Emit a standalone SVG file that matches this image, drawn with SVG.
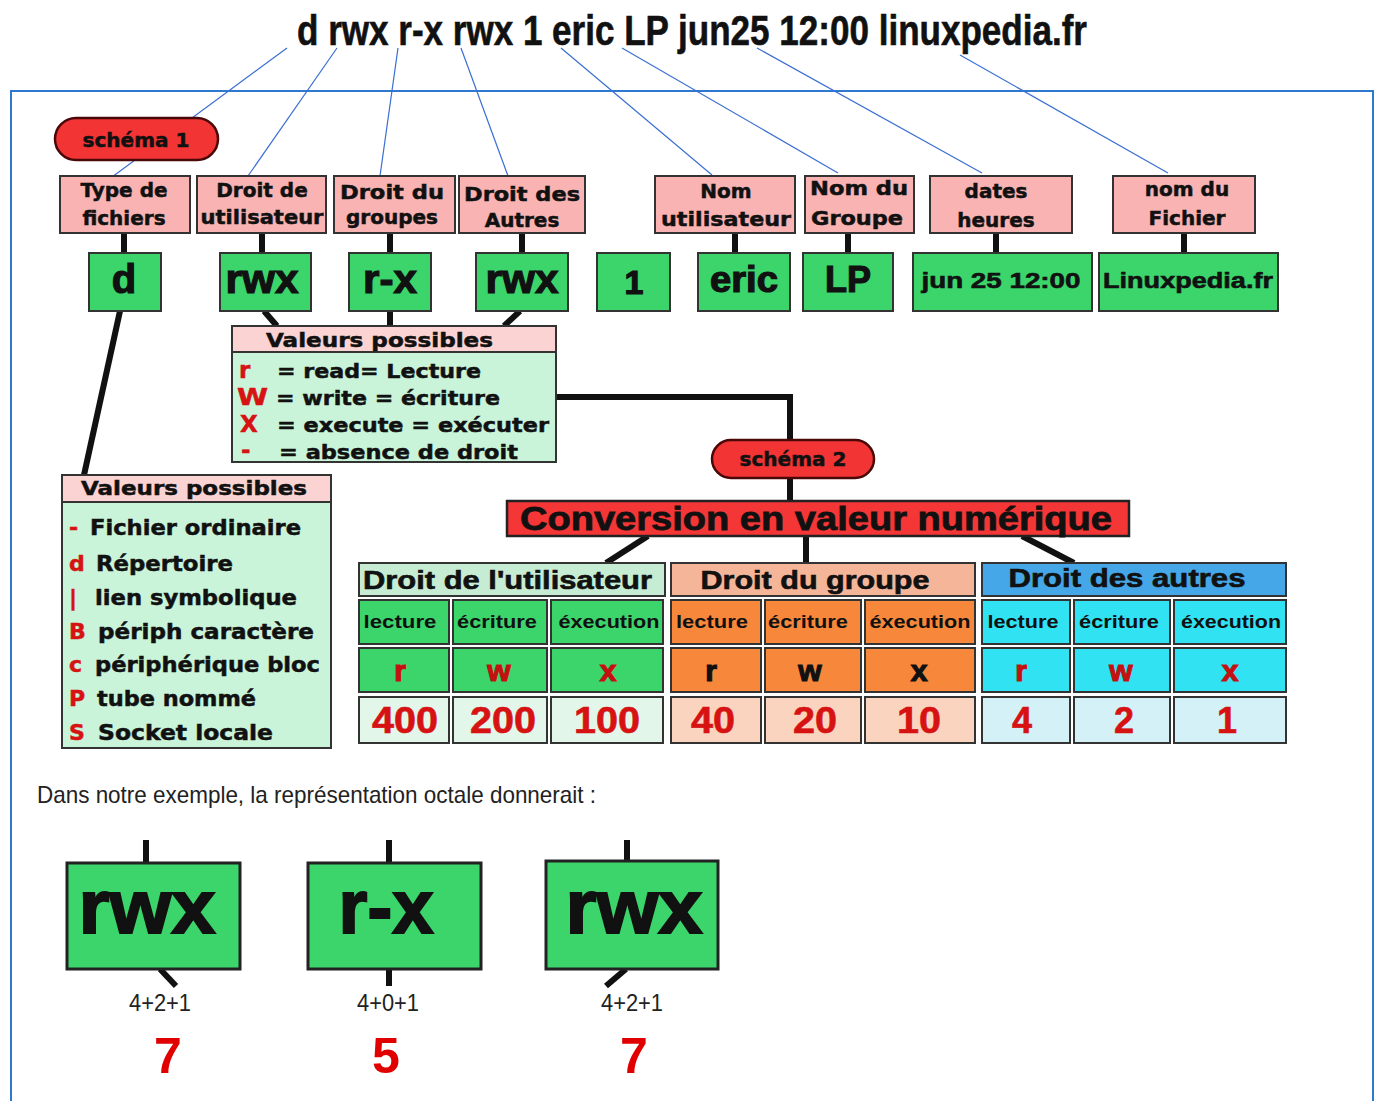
<svg xmlns="http://www.w3.org/2000/svg" width="1378" height="1101" viewBox="0 0 1378 1101">
<style>
text{font-family:"Liberation Sans",Arial,sans-serif;font-weight:bold;fill:#111}
.w{font-family:"DejaVu Sans","Liberation Sans",sans-serif;font-weight:bold;stroke:#111;stroke-width:0.5}
.hv{stroke:#111;stroke-width:1.2}
.c{text-anchor:middle}
.pink{fill:#f8b3b2;stroke:#333;stroke-width:2}
.grn{fill:#3bd56c;stroke:#333;stroke-width:2}
.mint{fill:#c9f4da;stroke:#333;stroke-width:2}
.pill{fill:#f23434;stroke:#4a0808;stroke-width:2.5}
.blue{stroke:#3a6fd2;stroke-width:1.2;fill:none}
.k{stroke:#111;stroke-width:6;fill:none}
.red{fill:#d61212;stroke:#d61212}
.rl{fill:#c41010;stroke:#c41010;stroke-width:1.2}
.org{fill:#f7883b;stroke:#333;stroke-width:2}
.cya{fill:#30e2f2;stroke:#333;stroke-width:2}
.lg{fill:#e2f6ea;stroke:#333;stroke-width:2}
.lp{fill:#fbd4bf;stroke:#333;stroke-width:2}
.lc{fill:#d4f1f7;stroke:#333;stroke-width:2}
.num{fill:#d61212;stroke:#d61212;stroke-width:0.6}
.big{fill:#3bd56c;stroke:#222;stroke-width:3}
.n{font-weight:normal;fill:#222}
</style>

<rect x="11" y="91" width="1362" height="1030" fill="none" stroke="#2f78cf" stroke-width="2"/>

<text id="title" x="692" y="45" class="c" font-size="42" textLength="790" lengthAdjust="spacingAndGlyphs" style="stroke:#111;stroke-width:0.6">d rwx r-x rwx 1 eric LP jun25 12:00 linuxpedia.fr</text>

<g id="connectors">
  <line class="blue" x1="287" y1="48" x2="112" y2="177"/>
  <line class="blue" x1="337" y1="48" x2="248" y2="176"/>
  <line class="blue" x1="398" y1="48" x2="380" y2="176"/>
  <line class="blue" x1="461" y1="48" x2="508" y2="176"/>
  <line class="blue" x1="561" y1="48" x2="712" y2="175"/>
  <line class="blue" x1="622" y1="48" x2="838" y2="173"/>
  <line class="blue" x1="757" y1="48" x2="982" y2="173"/>
  <line class="blue" x1="960" y1="55" x2="1168" y2="173"/>
  <line class="k" x1="124" y1="233" x2="124" y2="253"/>
  <line class="k" x1="262" y1="233" x2="262" y2="253"/>
  <line class="k" x1="390" y1="233" x2="390" y2="253"/>
  <line class="k" x1="522" y1="233" x2="522" y2="253"/>
  <line class="k" x1="735" y1="233" x2="735" y2="253"/>
  <line class="k" x1="848" y1="233" x2="848" y2="253"/>
  <line class="k" x1="996" y1="233" x2="996" y2="253"/>
  <line class="k" x1="1184" y1="233" x2="1184" y2="253"/>
  <line class="k" x1="120" y1="311" x2="84" y2="475"/>
  <line class="k" x1="264" y1="311" x2="277" y2="326"/>
  <line class="k" x1="390" y1="311" x2="390" y2="326"/>
  <line class="k" x1="520" y1="311" x2="504" y2="326"/>
  <polyline class="k" points="556,397 790,397 790,441"/>
  <line class="k" x1="790" y1="478" x2="790" y2="501"/>
  <line class="k" x1="648" y1="536" x2="606" y2="563"/>
  <line class="k" x1="806" y1="536" x2="806" y2="563"/>
  <line class="k" x1="1022" y1="536" x2="1074" y2="563"/>
  <line class="k" x1="146" y1="840" x2="146" y2="863"/>
  <line class="k" x1="160" y1="969" x2="176" y2="986"/>
  <line class="k" x1="389" y1="840" x2="389" y2="863"/>
  <line class="k" x1="389" y1="969" x2="389" y2="986"/>
  <line class="k" x1="627" y1="840" x2="627" y2="861"/>
  <line class="k" x1="626" y1="969" x2="606" y2="986"/>
</g>

<g id="schema1">
  <rect class="pill" x="55" y="118" width="163" height="42" rx="21"/>
  <text class="w c" x="136" y="147" font-size="20">schéma 1</text>
</g>

<g id="h-type"><rect class="pink" x="60" y="176" width="130" height="57"/>
  <text class="w c" x="124" y="197" font-size="20">Type de</text><text class="w c" x="124" y="225" font-size="20">fichiers</text></g>
<g id="h-duser"><rect class="pink" x="197" y="176" width="129" height="57"/>
  <text class="w c" x="262" y="197" font-size="20">Droit de</text><text class="w c" x="262" y="224" font-size="20" textLength="123" lengthAdjust="spacingAndGlyphs">utilisateur</text></g>
<g id="h-dgrp"><rect class="pink" x="334" y="176" width="121" height="57"/>
  <text class="w c" x="392" y="199" font-size="20" textLength="104" lengthAdjust="spacingAndGlyphs">Droit du</text><text class="w c" x="392" y="224" font-size="20">groupes</text></g>
<g id="h-dautres"><rect class="pink" x="459" y="176" width="126" height="57"/>
  <text class="w c" x="522" y="201" font-size="20" textLength="116" lengthAdjust="spacingAndGlyphs">Droit des</text><text class="w c" x="522" y="227" font-size="20">Autres</text></g>
<g id="h-nomu"><rect class="pink" x="655" y="176" width="140" height="57"/>
  <text class="w c" x="726" y="198" font-size="20">Nom</text><text class="w c" x="726" y="226" font-size="20" textLength="130" lengthAdjust="spacingAndGlyphs">utilisateur</text></g>
<g id="h-nomg"><rect class="pink" x="805" y="176" width="109" height="57"/>
  <text class="w c" x="859" y="195" font-size="20" textLength="98" lengthAdjust="spacingAndGlyphs">Nom du</text><text class="w c" x="857" y="225" font-size="20" textLength="92" lengthAdjust="spacingAndGlyphs">Groupe</text></g>
<g id="h-dates"><rect class="pink" x="930" y="176" width="142" height="57"/>
  <text class="w c" x="996" y="198" font-size="20">dates</text><text class="w c" x="996" y="227" font-size="20">heures</text></g>
<g id="h-nomf"><rect class="pink" x="1113" y="176" width="142" height="57"/>
  <text class="w c" x="1187" y="196" font-size="20">nom du</text><text class="w c" x="1187" y="225" font-size="20">Fichier</text></g>

<g id="v-d"><rect class="grn" x="89" y="253" width="72" height="58"/><text class="c hv" x="124" y="293" font-size="40">d</text></g>
<g id="v-rwx1"><rect class="grn" x="220" y="253" width="91" height="58"/><text class="c hv" x="262" y="293" font-size="40" textLength="73" lengthAdjust="spacingAndGlyphs">rwx</text></g>
<g id="v-rx"><rect class="grn" x="349" y="253" width="82" height="58"/><text class="c hv" x="390" y="293" font-size="40" textLength="54" lengthAdjust="spacingAndGlyphs">r-x</text></g>
<g id="v-rwx2"><rect class="grn" x="476" y="253" width="92" height="58"/><text class="c hv" x="522" y="293" font-size="40" textLength="73" lengthAdjust="spacingAndGlyphs">rwx</text></g>
<g id="v-1"><rect class="grn" x="597" y="253" width="73" height="58"/><text class="c hv" x="634" y="294" font-size="34">1</text></g>
<g id="v-eric"><rect class="grn" x="698" y="253" width="92" height="58"/><text class="c hv" x="744" y="292" font-size="36" textLength="68" lengthAdjust="spacingAndGlyphs">eric</text></g>
<g id="v-lp"><rect class="grn" x="803" y="253" width="90" height="58"/><text class="c hv" x="848" y="292" font-size="36">LP</text></g>
<g id="v-date"><rect class="grn" x="913" y="253" width="179" height="58"/><text class="c" x="1001" y="288" font-size="22" textLength="159" lengthAdjust="spacingAndGlyphs" style="stroke:#111;stroke-width:0.6">jun 25 12:00</text></g>
<g id="v-file"><rect class="grn" x="1099" y="253" width="179" height="58"/><text class="c" x="1188" y="288" font-size="22" textLength="170" lengthAdjust="spacingAndGlyphs" style="stroke:#111;stroke-width:0.6">Linuxpedia.fr</text></g>

<g id="valeurs1">
  <rect class="pink" x="232" y="326" width="324" height="26" style="fill:#fbd3d3"/>
  <rect class="mint" x="232" y="352" width="324" height="110"/>
  <text class="w" x="266" y="347" font-size="20" textLength="227" lengthAdjust="spacingAndGlyphs">Valeurs possibles</text>
  <text class="w red" x="239" y="378" font-size="23">r</text>
  <text class="w" x="277" y="378" font-size="20" textLength="204" lengthAdjust="spacingAndGlyphs">= read= Lecture</text>
  <text class="w red" x="237" y="405" font-size="23" textLength="31" lengthAdjust="spacingAndGlyphs">W</text>
  <text class="w" x="276" y="405" font-size="20" textLength="224" lengthAdjust="spacingAndGlyphs">= write = écriture</text>
  <text class="w red" x="240" y="432" font-size="23">X</text>
  <text class="w" x="277" y="432" font-size="20" textLength="272" lengthAdjust="spacingAndGlyphs">= execute = exécuter</text>
  <text class="w red" x="241" y="458" font-size="23">-</text>
  <text class="w" x="279" y="459" font-size="20" textLength="239" lengthAdjust="spacingAndGlyphs">= absence de droit</text>
</g>

<g id="valeurs2">
  <rect class="pink" x="62" y="475" width="269" height="27" style="fill:#fbd3d3"/>
  <rect class="mint" x="62" y="502" width="269" height="246"/>
  <text class="w" x="81" y="495" font-size="20" textLength="226" lengthAdjust="spacingAndGlyphs">Valeurs possibles</text>
  <text class="w red" x="69" y="535" font-size="22">-</text>
  <text class="w" x="90" y="535" font-size="21" textLength="211" lengthAdjust="spacingAndGlyphs">Fichier ordinaire</text>
  <text class="w red" x="69" y="571" font-size="22">d</text>
  <text class="w" x="96" y="571" font-size="21" textLength="137" lengthAdjust="spacingAndGlyphs">Répertoire</text>
  <text class="w red" x="69" y="605" font-size="22">|</text>
  <text class="w" x="95" y="605" font-size="21" textLength="202" lengthAdjust="spacingAndGlyphs">lien symbolique</text>
  <text class="w red" x="69" y="639" font-size="22">B</text>
  <text class="w" x="98" y="639" font-size="21" textLength="216" lengthAdjust="spacingAndGlyphs">périph caractère</text>
  <text class="w red" x="69" y="672" font-size="22">c</text>
  <text class="w" x="95" y="672" font-size="21" textLength="225" lengthAdjust="spacingAndGlyphs">périphérique bloc</text>
  <text class="w red" x="69" y="706" font-size="22">P</text>
  <text class="w" x="97" y="706" font-size="21" textLength="159" lengthAdjust="spacingAndGlyphs">tube nommé</text>
  <text class="w red" x="69" y="740" font-size="22">S</text>
  <text class="w" x="98" y="740" font-size="21" textLength="175" lengthAdjust="spacingAndGlyphs">Socket locale</text>
</g>

<g id="schema2">
  <rect class="pill" x="712" y="440" width="162" height="38" rx="19"/>
  <text class="w c" x="793" y="466" font-size="20">schéma 2</text>
</g>

<g id="conversion">
  <rect x="507" y="501" width="622" height="35" fill="#f43636" stroke="#222" stroke-width="2.5"/>
  <text class="c" x="816" y="530" font-size="34" textLength="592" lengthAdjust="spacingAndGlyphs" style="stroke:#111;stroke-width:0.8">Conversion en valeur numérique</text>
</g>

<g id="t-user">
  <rect x="359" y="563" width="306" height="33" fill="#c6edd4" stroke="#333" stroke-width="2"/>
  <text x="363" y="589" font-size="25" textLength="289" lengthAdjust="spacingAndGlyphs" style="stroke:#111;stroke-width:0.6">Droit de l'utilisateur</text>
  <rect class="grn" x="359" y="600" width="90" height="44"/><text class="c" x="400" y="628" font-size="18" textLength="73" lengthAdjust="spacingAndGlyphs">lecture</text>
  <rect class="grn" x="453" y="600" width="94" height="44"/><text class="c" x="497" y="628" font-size="18" textLength="80" lengthAdjust="spacingAndGlyphs">écriture</text>
  <rect class="grn" x="551" y="600" width="112" height="44"/><text class="c" x="609" y="628" font-size="18" textLength="101" lengthAdjust="spacingAndGlyphs">éxecution</text>
  <rect class="grn" x="359" y="648" width="90" height="44"/><text class="c rl" x="400" y="681" font-size="30">r</text>
  <rect class="grn" x="453" y="648" width="94" height="44"/><text class="c rl" x="499" y="681" font-size="30">w</text>
  <rect class="grn" x="551" y="648" width="112" height="44"/><text class="c rl" x="608" y="681" font-size="30">x</text>
  <rect class="lg" x="359" y="697" width="90" height="46"/><text class="c num" x="405" y="733" font-size="36" textLength="66" lengthAdjust="spacingAndGlyphs">400</text>
  <rect class="lg" x="453" y="697" width="94" height="46"/><text class="c num" x="503" y="733" font-size="36" textLength="66" lengthAdjust="spacingAndGlyphs">200</text>
  <rect class="lg" x="551" y="697" width="112" height="46"/><text class="c num" x="607" y="733" font-size="36" textLength="66" lengthAdjust="spacingAndGlyphs">100</text>
</g>

<g id="t-group">
  <rect x="671" y="563" width="304" height="33" fill="#f5b598" stroke="#333" stroke-width="2"/>
  <text class="c" x="815" y="589" font-size="25" textLength="229" lengthAdjust="spacingAndGlyphs" style="stroke:#111;stroke-width:0.6">Droit du groupe</text>
  <rect class="org" x="671" y="600" width="90" height="44"/><text class="c" x="712" y="628" font-size="18" textLength="72" lengthAdjust="spacingAndGlyphs">lecture</text>
  <rect class="org" x="765" y="600" width="96" height="44"/><text class="c" x="808" y="628" font-size="18" textLength="80" lengthAdjust="spacingAndGlyphs">écriture</text>
  <rect class="org" x="865" y="600" width="110" height="44"/><text class="c" x="920" y="628" font-size="18" textLength="101" lengthAdjust="spacingAndGlyphs">éxecution</text>
  <rect class="org" x="671" y="648" width="90" height="44"/><text class="c hv" x="711" y="681" font-size="30">r</text>
  <rect class="org" x="765" y="648" width="96" height="44"/><text class="c hv" x="810" y="681" font-size="30">w</text>
  <rect class="org" x="865" y="648" width="110" height="44"/><text class="c hv" x="919" y="681" font-size="30">x</text>
  <rect class="lp" x="671" y="697" width="90" height="46"/><text class="c num" x="713" y="733" font-size="36" textLength="44" lengthAdjust="spacingAndGlyphs">40</text>
  <rect class="lp" x="765" y="697" width="96" height="46"/><text class="c num" x="815" y="733" font-size="36" textLength="44" lengthAdjust="spacingAndGlyphs">20</text>
  <rect class="lp" x="865" y="697" width="110" height="46"/><text class="c num" x="919" y="733" font-size="36" textLength="44" lengthAdjust="spacingAndGlyphs">10</text>
</g>

<g id="t-others">
  <rect x="982" y="563" width="304" height="33" fill="#45a7e7" stroke="#333" stroke-width="2"/>
  <text class="c" x="1127" y="587" font-size="25" textLength="237" lengthAdjust="spacingAndGlyphs" style="stroke:#111;stroke-width:0.6">Droit des autres</text>
  <rect class="cya" x="982" y="600" width="88" height="44"/><text class="c" x="1023" y="628" font-size="18" textLength="71" lengthAdjust="spacingAndGlyphs">lecture</text>
  <rect class="cya" x="1074" y="600" width="96" height="44"/><text class="c" x="1119" y="628" font-size="18" textLength="80" lengthAdjust="spacingAndGlyphs">écriture</text>
  <rect class="cya" x="1174" y="600" width="112" height="44"/><text class="c" x="1231" y="628" font-size="18" textLength="100" lengthAdjust="spacingAndGlyphs">éxecution</text>
  <rect class="cya" x="982" y="648" width="88" height="44"/><text class="c rl" x="1021" y="681" font-size="30">r</text>
  <rect class="cya" x="1074" y="648" width="96" height="44"/><text class="c rl" x="1121" y="681" font-size="30">w</text>
  <rect class="cya" x="1174" y="648" width="112" height="44"/><text class="c rl" x="1230" y="681" font-size="30">x</text>
  <rect class="lc" x="982" y="697" width="88" height="46"/><text class="c num" x="1022" y="733" font-size="36">4</text>
  <rect class="lc" x="1074" y="697" width="96" height="46"/><text class="c num" x="1124" y="733" font-size="36">2</text>
  <rect class="lc" x="1174" y="697" width="112" height="46"/><text class="c num" x="1227" y="733" font-size="36">1</text>
</g>

<text id="caption" class="n" x="37" y="803" font-size="24" textLength="559" lengthAdjust="spacingAndGlyphs">Dans notre exemple, la représentation octale donnerait :</text>

<g id="oct-user">
  <rect class="big" x="67" y="863" width="173" height="106"/>
  <text class="c hv" x="147" y="933" font-size="76" textLength="137" lengthAdjust="spacingAndGlyphs" style="stroke-width:2">rwx</text>
  <text class="c n" x="160" y="1011" font-size="24" textLength="62" lengthAdjust="spacingAndGlyphs">4+2+1</text>
  <text class="c" x="168" y="1073" font-size="50" style="fill:#e00000">7</text>
</g>
<g id="oct-group">
  <rect class="big" x="308" y="863" width="173" height="106"/>
  <text class="c hv" x="386" y="933" font-size="76" textLength="95" lengthAdjust="spacingAndGlyphs" style="stroke-width:2">r-x</text>
  <text class="c n" x="388" y="1011" font-size="24" textLength="62" lengthAdjust="spacingAndGlyphs">4+0+1</text>
  <text class="c" x="386" y="1073" font-size="50" style="fill:#e00000">5</text>
</g>
<g id="oct-others">
  <rect class="big" x="546" y="861" width="172" height="108"/>
  <text class="c hv" x="634" y="933" font-size="76" textLength="137" lengthAdjust="spacingAndGlyphs" style="stroke-width:2">rwx</text>
  <text class="c n" x="632" y="1011" font-size="24" textLength="62" lengthAdjust="spacingAndGlyphs">4+2+1</text>
  <text class="c" x="634" y="1073" font-size="50" style="fill:#e00000">7</text>
</g>
</svg>
